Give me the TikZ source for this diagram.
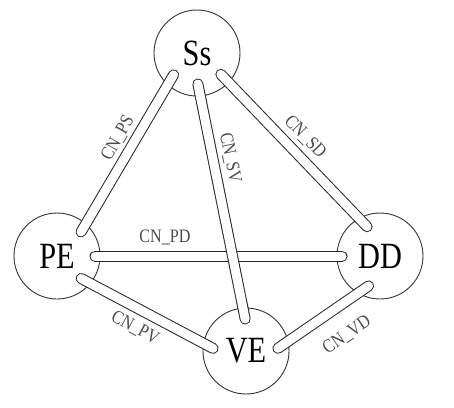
\documentclass[tikz,border=0pt]{standalone}
\usepackage{fontspec}
\setmainfont{Liberation Serif}
\usetikzlibrary{calc}
\tikzset{
  state/.style={circle,draw=black!80,line width=0.9pt,minimum size=86pt,inner sep=0pt,fill=white},
  tubeout/.style={line width=11pt,draw=black!85,line cap=round},
  tubein/.style={line width=9pt,draw=white,line cap=round},
  lbl/.style={inner sep=0pt,text=black!70},
}
\newcommand{\bigtxt}[1]{\scalebox{0.82}[1]{\fontsize{37}{37}\selectfont #1}}
\newcommand{\smtxt}[1]{\scalebox{0.85}[1]{\fontsize{19}{19}\selectfont #1}}
\newcommand{\tube}[2]{\draw[tubeout] (#1) -- (#2); \draw[tubein] (#1) -- (#2);}
\begin{document}
\begin{tikzpicture}[x=1pt,y=-1pt]
\useasboundingbox (0,0) rectangle (454,407);
\node[state] (Ss) at (197,53) {\bigtxt{Ss}};
\node[state] (PE) at (57,256) {\bigtxt{PE}};
\node[state] (DD) at (380,256) {\bigtxt{DD}};
\node[state] (VE) at (246,351) {\bigtxt{VE}};
% tube end points
\coordinate (psA) at ($(PE)+(-45:34)$);
\coordinate (psB) at ($(Ss)+(137:32)$);
\coordinate (svA) at ($(Ss)+(88.4:31)$);
\coordinate (svB) at ($(VE)+(268.5:32)$);
\coordinate (sdA) at ($(Ss)+(41.8:32)$);
\coordinate (sdB) at ($(DD)+(246.2:32)$);
\coordinate (pdA) at ($(PE)+(0:38)$);
\coordinate (pdB) at ($(DD)+(180:38)$);
\coordinate (pvA) at ($(PE)+(42.9:33)$);
\coordinate (pvB) at ($(VE)+(184.5:33)$);
\coordinate (vdA) at ($(VE)+(-4.8:32)$);
\coordinate (vdB) at ($(DD)+(110.9:32)$);
\tube{psA}{psB}
\tube{sdA}{sdB}
\tube{pdA}{pdB}
\tube{svA}{svB}
\tube{pvA}{pvB}
\tube{vdA}{vdB}
% labels
\node[lbl,rotate=60.5] (lps) at (118,138) {\smtxt{CN\_PS}};
\node[lbl,rotate=-78.2] (lsv) at (230,158) {\smtxt{CN\_SV}};
\node[lbl,rotate=-45.8] (lsd) at (305,137) {\smtxt{CN\_SD}};
\node[lbl] (lpd) at (165,237) {\smtxt{CN\_PD}};
\node[lbl,rotate=-28.2] (lpv) at (135,328) {\smtxt{CN\_PV}};
\node[lbl,rotate=34.3] (lvd) at (347,335) {\smtxt{CN\_VD}};
\end{tikzpicture}
\end{document}
